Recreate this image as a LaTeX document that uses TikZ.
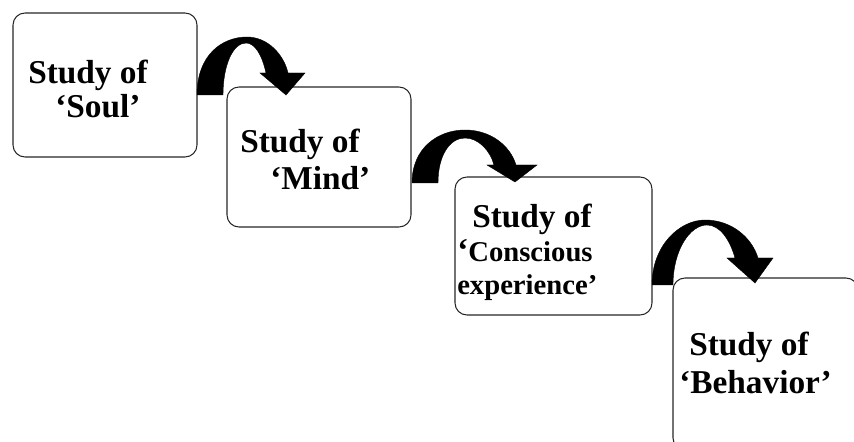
\documentclass[tikz,border=0pt]{standalone}
\usepackage{fontspec}
\setmainfont{Liberation Serif}
\begin{document}
\begin{tikzpicture}[x=0.75pt,y=0.75pt,yscale=-1,xscale=1,
    stage/.style={draw=black!85, line width=0.8pt, rounded corners=9pt, inner sep=0pt, outer sep=0pt},
    txt/.style={anchor=base west, inner sep=0pt, font=\fontsize{25}{30}\selectfont\bfseries},
    smalltxt/.style={font=\fontsize{21.5}{26}\selectfont\bfseries},
    bendarrow/.style={fill=black, draw=black, line width=0.3pt}]
    \useasboundingbox (0,0) rectangle (854,442);
    \clip (0,0) rectangle (854,442);
    % boxes
    \node [stage, minimum width=138pt, minimum height=108pt] (soul) at (105,85) {};
    \node [stage, minimum width=138pt, minimum height=105pt] (mind) at (319,157) {};
    \node [stage, minimum width=147.75pt, minimum height=103.5pt] (consc) at (553.5,246) {};
    \node [stage, minimum width=138.75pt, minimum height=129pt] (behav) at (765.5,364) {};
    % labels
    \node [txt] (soul1) at (28,84) {Study of};
    \node [txt] (soul2) at (55,118) {‘Soul’};
    \node [txt] (mind1) at (240,153) {Study of};
    \node [txt] (mind2) at (270,190) {‘Mind’};
    \node [txt] (consc1) at (472,228) {Study of};
    \node [txt] (consc2) at (457,262) {‘{\fontsize{21.5}{26}\selectfont Conscious}};
    \node [txt, smalltxt] (consc3) at (457,295) {experience’};
    \node [txt] (behav1) at (689,355) {Study of};
    \node [txt] (behav2) at (679,393) {‘Behavior’};
    % curved arrows
    \begin{scope}[shift={(soul.east)}]
        \fill [bendarrow] (0,10) .. controls (0,-30) and (25,-48) .. (50,-48) .. controls (71,-48) and (87,-30) .. (91,-12) -- (108,-12) -- (89,10) -- (63,-12) -- (69,-12) .. controls (65,-30) and (58,-42) .. (49,-42) .. controls (36,-42) and (26,-20) .. (26,10) -- cycle;
    \end{scope}
    \begin{scope}[shift={(mind.east)}]
        \fill [bendarrow] (1,26) .. controls (1,-9) and (27,-27) .. (54,-27) .. controls (79,-27) and (99,-12) .. (105,8) -- (126,8) -- (104,25) -- (76,8) -- (83,8) .. controls (79,-7) and (67,-19) .. (54,-19) .. controls (39,-19) and (27,-2) .. (27,26) -- cycle;
    \end{scope}
    \begin{scope}[shift={(consc.east)}]
        \fill [bendarrow] (0,39) .. controls (0,-1) and (28,-26) .. (53,-26) .. controls (80,-26) and (100,-8) .. (106,12) -- (121,12) -- (103,37) -- (75,12) -- (83,12) .. controls (78,-6) and (68,-21) .. (55,-21) .. controls (38,-21) and (21,4) .. (21,39) -- cycle;
    \end{scope}
\end{tikzpicture}
\end{document}
